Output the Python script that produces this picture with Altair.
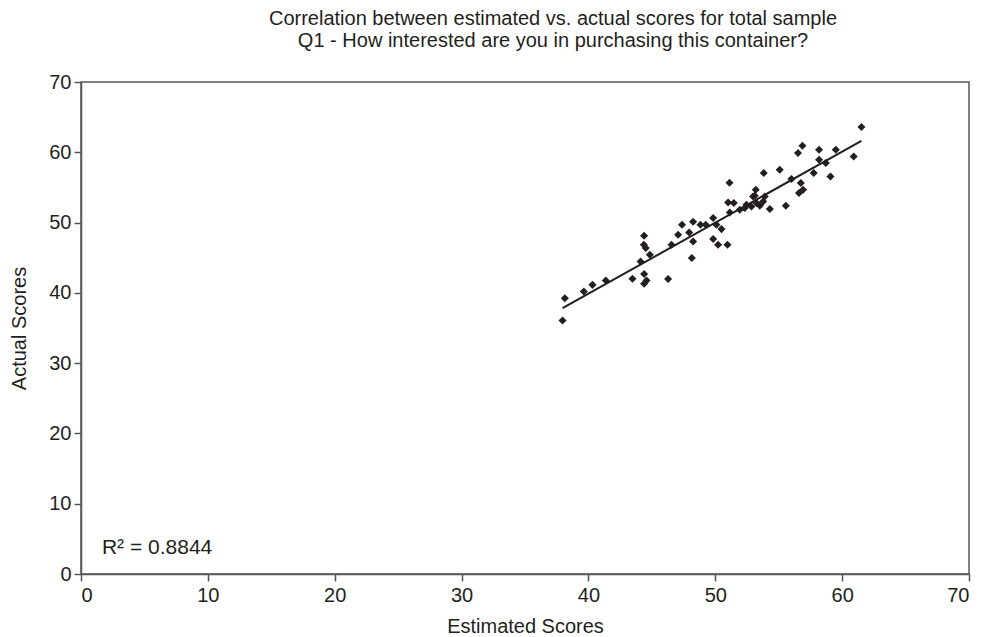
import altair as alt
import pandas as pd

estimated = [37.96, 38.14, 39.64, 40.32, 41.37, 43.47, 44.39, 44.58, 44.39, 46.28,
             44.11, 44.84, 44.39, 44.37, 44.52, 46.55, 47.07, 47.38, 48.15, 48.25,
             47.94, 48.25, 48.83, 49.25, 49.83, 50.09, 50.49, 49.83, 50.22, 50.96,
             51.01, 51.46, 51.14, 51.93, 52.32, 52.85, 53.25, 53.11, 51.12, 53.19,
             52.98, 53.90, 53.77, 53.51, 54.30, 55.56, 53.82, 55.08, 56.00, 56.74,
             56.92, 56.60, 57.76, 59.08, 56.87, 56.52, 58.18, 59.50, 60.91, 58.18,
             58.71, 61.52, 52.46]
actual = [36.06, 39.22, 40.19, 41.14, 41.76, 42.00, 42.67, 41.76, 41.29, 41.96,
          44.46, 45.42, 48.12, 46.84, 46.37, 46.84, 48.26, 49.69, 44.95, 47.31,
          48.59, 50.11, 49.69, 49.69, 50.64, 49.69, 49.07, 47.65, 46.84, 46.84,
          52.86, 52.78, 51.44, 51.82, 52.06, 52.29, 52.78, 53.82, 55.67, 54.67,
          53.72, 53.72, 53.00, 52.39, 51.92, 52.39, 57.05, 57.52, 56.19, 55.62,
          54.67, 54.20, 57.05, 56.56, 60.93, 59.89, 60.36, 60.36, 59.41, 58.94,
          58.47, 63.60, 52.53]

title_lines = ["Correlation between estimated vs. actual scores for total sample",
               "Q1 - How interested are you in purchasing this container?"]
r2_label = ["R² = 0.8844"]
r2_x = [1.65]
r2_y = [3.7]

df = pd.DataFrame({"Estimated": estimated, "Actual": actual})
ann = pd.DataFrame({"label": r2_label, "x": r2_x, "y": r2_y})

FONT = "Liberation Sans"
ink = "#231f20"
axis_col = "#555555"

xs = alt.Scale(domain=[0, 70], nice=False)
ys = alt.Scale(domain=[0, 70], nice=False)

axis_style = dict(grid=False, tickSize=7,
                  labelFont=FONT, titleFont=FONT, labelFontSize=20, titleFontSize=20,
                  labelColor=ink, titleColor=ink, titleFontWeight="normal",
                  domainColor=axis_col, tickColor=axis_col, domainWidth=1.5, tickWidth=1.5)

x_axis = alt.Axis(values=list(range(0, 71, 10)), title="Estimated Scores",
                  labelPadding=4, titlePadding=11, **axis_style)
y_axis = alt.Axis(values=list(range(0, 71, 10)), title="Actual Scores",
                  labelPadding=3, titlePadding=19, **axis_style)

points = alt.Chart(df).mark_point(shape="diamond", filled=True, size=65, color=ink, opacity=1).encode(
    x=alt.X("Estimated:Q", scale=xs, axis=x_axis),
    y=alt.Y("Actual:Q", scale=ys, axis=y_axis),
)

line = alt.Chart(df).transform_regression("Estimated", "Actual").mark_line(
    color=ink, strokeWidth=2
).encode(
    x=alt.X("Estimated:Q", scale=xs),
    y=alt.Y("Actual:Q", scale=ys),
)

text = alt.Chart(ann).mark_text(align="left", baseline="middle", font=FONT, fontSize=21, color=ink).encode(
    x=alt.X("x:Q", scale=xs),
    y=alt.Y("y:Q", scale=ys),
    text="label:N",
)

chart = alt.layer(points, line, text).properties(
    width=888,
    height=492,
    autosize=alt.AutoSizeParams(type="none"),
    padding={"left": 73, "top": 74, "right": 7, "bottom": 62},
    background="white",
    title=alt.TitleParams(text=title_lines, font=FONT, fontSize=20, fontWeight="normal",
                          color=ink, anchor="middle", dx=28, offset=21, lineHeight=22),
).configure_view(
    stroke=axis_col, strokeWidth=1.5
)

chart.save("out.html", embed_options={"renderer": "svg", "actions": False})
